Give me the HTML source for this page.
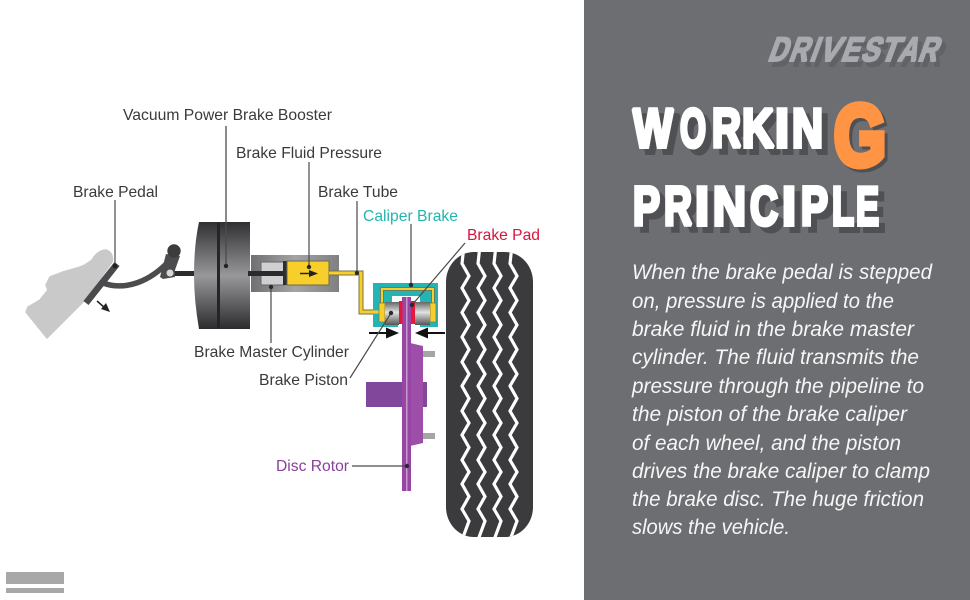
<!DOCTYPE html>
<html><head><meta charset="utf-8"><style>
html,body{margin:0;padding:0;background:#fff}
svg{display:block}
.l{font-family:"Liberation Sans",sans-serif;font-size:16px;fill:#3a3a3a}
.p{font-family:"Liberation Sans",sans-serif;font-style:italic;font-size:21px;fill:#f6f6f6}
.t{font-family:"Liberation Sans",sans-serif;font-weight:bold;stroke-linejoin:miter;stroke-miterlimit:1.500}
.s text{fill:#4f5054;stroke:#4f5054}
.w text{fill:#fff;stroke:#fff}
.h text{font-size:55px;stroke-width:4px}
.b text{font-size:34px;stroke-width:2px}
</style></head><body>
<svg xmlns="http://www.w3.org/2000/svg" width="970" height="600" viewBox="0 0 970 600">
<defs>
<linearGradient id="bo" x1="0" y1="0" x2="0" y2="1"><stop offset="0" stop-color="#303032"/><stop offset=".5" stop-color="#98989a"/><stop offset="1" stop-color="#2c2c2e"/></linearGradient>
<linearGradient id="cy" x1="0" y1="0" x2="0" y2="1"><stop offset="0" stop-color="#666"/><stop offset=".45" stop-color="#e2e2e2"/><stop offset="1" stop-color="#555"/></linearGradient>
<linearGradient id="mc" x1="0" y1="0" x2="1" y2="0"><stop offset="0" stop-color="#707072"/><stop offset=".5" stop-color="#a4a4a6"/><stop offset="1" stop-color="#808082"/></linearGradient>
<polyline id="z" fill="none" stroke="#fff" stroke-width="3.200" points="-2,250 -3.500,263.500 3.500,276 -3.500,288 3.500,300.500 -3.500,312.500 3.500,325 -3.500,337 3.500,349.500 -3.500,362 3.500,374 -3.500,386 3.500,398.500 -3.500,411 3.500,423 -3.500,435 3.500,447.500 -3.500,460 3.500,472 -3.500,484 3.500,496.500 -3.500,509 3.500,521 -3.500,540"/>
<clipPath id="tc"><rect x="446" y="252" width="87" height="285" rx="28" ry="30"/></clipPath>
</defs>
<rect width="970" height="600" fill="#fff"/>
<rect x="584" width="386" height="600" fill="#6d6e72"/>
<rect x="6" y="572" width="58" height="12" fill="#a8a8a8"/><rect x="6" y="588" width="58" height="5" fill="#a8a8a8"/>

<!-- shoe and pedal -->
<path d="M26,312 L47,338 L85,300 L112,262 Q114,253 106,250 Q98,250 92,260 Q85,266 77,268 L63,272 L50,277 L46,285 L48,290 L40,300 L28,307Z" fill="#c9c9c9" stroke="#c9c9c9" stroke-width="1.500" stroke-linejoin="round"/>
<path d="M103,283 C125,291 150,282 170,260" fill="none" stroke="#4c4c4e" stroke-width="5.500"/>
<polygon points="166,254 180,256 175,270 175,277 163,279 160,277" fill="#4c4c4e"/>
<circle cx="174" cy="251" r="6.700" fill="#3c3c3e"/>
<rect x="175" y="271" width="23" height="5" fill="#2c2c2e"/>
<circle cx="170" cy="273" r="3.500" fill="#d8d8d8"/>
<line x1="117" y1="264" x2="86" y2="303" stroke="#4a4a4c" stroke-width="6.500"/>
<circle cx="115" cy="266" r="2.500" fill="#222"/>
<path d="M97,301 L105,308" stroke="#222" stroke-width="1.500"/>
<polygon points="110,312 101,309 106,303" fill="#222"/>

<!-- booster -->
<path d="M199,222 H250 V329 H199 Q194,300 194,275 Q194,245 199,222Z" fill="url(#bo)"/>
<rect x="217" y="223" width="3" height="105" fill="#252527"/>
<line x1="226" y1="126" x2="226" y2="266" stroke="#4a4a4a" stroke-width="1.300"/>
<circle cx="226" cy="266" r="2.200" fill="#222"/>

<!-- master cylinder -->
<rect x="251" y="255" width="88" height="37" fill="url(#mc)"/>
<rect x="261" y="262" width="23" height="23" fill="#cfcfd1" stroke="#666" stroke-width="1"/>
<rect x="248" y="271" width="37" height="5" fill="#2a2a2c"/>
<rect x="283" y="261" width="5" height="24" fill="#2e2e30"/>
<rect x="287" y="261" width="42" height="24" fill="#f8cf2a" stroke="#6e6a50" stroke-width="1"/>
<path d="M329,273 H361 V312 H380" fill="none" stroke="#77704a" stroke-width="5"/>

<!-- caliper -->
<path d="M373,283 H438 V327 H420 V296 H392 V327 H373Z" fill="#25b4b4"/>
<rect x="392" y="320" width="6" height="7" fill="#25b4b4"/>
<path d="M329,273 H361 V312 H380" fill="none" stroke="#f8cf2a" stroke-width="3"/>
<path d="M382,303 V289 H433 V303" fill="none" stroke="#77704a" stroke-width="3.500"/>
<path d="M382,303 V289 H433 V303" fill="none" stroke="#f8cf2a" stroke-width="2"/>
<rect x="379" y="303" width="6" height="19" fill="#f8cf2a" stroke="#77704a" stroke-width=".7"/>
<rect x="430" y="303" width="6" height="19" fill="#f8cf2a" stroke="#77704a" stroke-width=".7"/>
<rect x="385" y="302" width="14" height="23" fill="url(#cy)"/>
<rect x="415" y="302" width="15" height="23" fill="url(#cy)"/>

<!-- disc -->
<rect x="366" y="382" width="38" height="25" fill="#80479a"/>
<rect x="420" y="382" width="7" height="25" fill="#80479a"/>
<rect x="423" y="351" width="12" height="6" fill="#a5a5a5"/>
<rect x="423" y="433" width="12" height="6" fill="#a5a5a5"/>
<polygon points="410,343 423,346 423,443 410,446" fill="#9d4ea8"/>
<rect x="402" y="297" width="9" height="194" fill="#9746a5"/>
<rect x="406" y="297" width="1.500" height="194" fill="#c79acb"/>
<rect x="399" y="301" width="3.500" height="23" fill="#e2183c"/>
<rect x="411" y="301" width="4" height="23" fill="#e2183c"/>

<!-- tyre -->
<rect x="446" y="252" width="87" height="285" rx="28" ry="30" fill="#3b3b3d"/>
<g clip-path="url(#tc)">
<use href="#z" transform="translate(465.500,0)"/>
<use href="#z" transform="translate(481.500,0)"/>
<use href="#z" transform="translate(497.500,0)"/>
<use href="#z" transform="translate(513.500,0)"/>
</g>

<!-- arrows -->
<path d="M300,273.500 H312" stroke="#222" stroke-width="1.500"/><polygon points="318,273.500 309,270 309,277" fill="#222"/>
<path d="M369,333 H388" stroke="#111" stroke-width="2"/><polygon points="399,333 386,327.500 386,338.500" fill="#111"/>
<path d="M445,333 H426" stroke="#111" stroke-width="2"/><polygon points="415,333 428,327.500 428,338.500" fill="#111"/>

<!-- leaders -->
<g stroke="#4a4a4a" stroke-width="1.200" fill="none">
<line x1="115" y1="200" x2="115" y2="263"/>
<line x1="309" y1="162" x2="309" y2="267"/>
<line x1="357" y1="201" x2="357" y2="273"/>
<line x1="411" y1="224" x2="411" y2="285"/>
<line x1="465" y1="243" x2="412" y2="305"/>
<line x1="271" y1="287" x2="271" y2="343"/>
<line x1="350" y1="378" x2="391" y2="313"/>
<line x1="352" y1="466" x2="407" y2="466"/>
</g>
<g fill="#2a2a2a"><circle cx="309" cy="267" r="2.200"/><circle cx="357" cy="273" r="2.200"/><circle cx="411" cy="285" r="2.200"/><circle cx="412" cy="305" r="2.200"/><circle cx="271" cy="287" r="2.200"/><circle cx="391" cy="313" r="2.200"/><circle cx="407" cy="466" r="2.200"/></g>

<!-- labels -->
<text class="l" x="123" y="120" textLength="209" lengthAdjust="spacingAndGlyphs">Vacuum Power Brake Booster</text>
<text class="l" x="236" y="158" textLength="146" lengthAdjust="spacingAndGlyphs">Brake Fluid Pressure</text>
<text class="l" x="73" y="197" textLength="85" lengthAdjust="spacingAndGlyphs">Brake Pedal</text>
<text class="l" x="318" y="197" textLength="80" lengthAdjust="spacingAndGlyphs">Brake Tube</text>
<text class="l" x="363" y="221" textLength="95" lengthAdjust="spacingAndGlyphs" style="fill:#22b5b0">Caliper Brake</text>
<text class="l" x="467" y="240" textLength="73" lengthAdjust="spacingAndGlyphs" style="fill:#d8143c">Brake Pad</text>
<text class="l" x="194" y="357" textLength="155" lengthAdjust="spacingAndGlyphs">Brake Master Cylinder</text>
<text class="l" x="259" y="385" textLength="89" lengthAdjust="spacingAndGlyphs">Brake Piston</text>
<text class="l" x="276" y="471" textLength="73" lengthAdjust="spacingAndGlyphs" style="fill:#8a3f98">Disc Rotor</text>

<!-- brand -->
<g class="t b" style="fill:#616266;stroke:#616266">
<text transform="translate(771,66) skewX(-20)" textLength="19" lengthAdjust="spacingAndGlyphs">D</text>
<text transform="translate(792,66) skewX(-20)" textLength="19" lengthAdjust="spacingAndGlyphs">R</text>
<text transform="translate(813,66) skewX(-20)" textLength="7" lengthAdjust="spacingAndGlyphs">I</text>
<text transform="translate(822,66) skewX(-20)" textLength="20" lengthAdjust="spacingAndGlyphs">V</text>
<text transform="translate(844,66) skewX(-20)" textLength="18" lengthAdjust="spacingAndGlyphs">E</text>
<text transform="translate(864,66) skewX(-20)" textLength="18" lengthAdjust="spacingAndGlyphs">S</text>
<text transform="translate(883,66) skewX(-20)" textLength="18" lengthAdjust="spacingAndGlyphs">T</text>
<text transform="translate(901,66) skewX(-20)" textLength="19" lengthAdjust="spacingAndGlyphs">A</text>
<text transform="translate(921,66) skewX(-20)" textLength="19" lengthAdjust="spacingAndGlyphs">R</text>
</g>
<g class="t b" style="fill:#a9aab0;stroke:#a9aab0">
<text transform="translate(767,61) skewX(-20)" textLength="19" lengthAdjust="spacingAndGlyphs">D</text>
<text transform="translate(788,61) skewX(-20)" textLength="19" lengthAdjust="spacingAndGlyphs">R</text>
<text transform="translate(809,61) skewX(-20)" textLength="7" lengthAdjust="spacingAndGlyphs">I</text>
<text transform="translate(818,61) skewX(-20)" textLength="20" lengthAdjust="spacingAndGlyphs">V</text>
<text transform="translate(840,61) skewX(-20)" textLength="18" lengthAdjust="spacingAndGlyphs">E</text>
<text transform="translate(860,61) skewX(-20)" textLength="18" lengthAdjust="spacingAndGlyphs">S</text>
<text transform="translate(879,61) skewX(-20)" textLength="18" lengthAdjust="spacingAndGlyphs">T</text>
<text transform="translate(897,61) skewX(-20)" textLength="19" lengthAdjust="spacingAndGlyphs">A</text>
<text transform="translate(917,61) skewX(-20)" textLength="19" lengthAdjust="spacingAndGlyphs">R</text>
</g>

<!-- title shadow -->
<g class="t h s" transform="translate(6,6)">
<text x="633" y="147" textLength="40" lengthAdjust="spacingAndGlyphs">W</text>
<text x="680" y="147" textLength="26" lengthAdjust="spacingAndGlyphs">O</text>
<text x="712" y="147" textLength="29" lengthAdjust="spacingAndGlyphs">R</text>
<text x="742" y="147" textLength="32" lengthAdjust="spacingAndGlyphs">K</text>
<text x="775" y="147" textLength="14" lengthAdjust="spacingAndGlyphs">I</text>
<text x="792" y="147" textLength="31" lengthAdjust="spacingAndGlyphs">N</text>
<text x="633" y="225" textLength="27" lengthAdjust="spacingAndGlyphs">P</text>
<text x="664" y="225" textLength="28" lengthAdjust="spacingAndGlyphs">R</text>
<text x="695" y="225" textLength="14" lengthAdjust="spacingAndGlyphs">I</text>
<text x="713" y="225" textLength="33" lengthAdjust="spacingAndGlyphs">N</text>
<text x="750" y="225" textLength="28" lengthAdjust="spacingAndGlyphs">C</text>
<text x="782" y="225" textLength="14" lengthAdjust="spacingAndGlyphs">I</text>
<text x="801" y="225" textLength="27" lengthAdjust="spacingAndGlyphs">P</text>
<text x="832" y="225" textLength="22" lengthAdjust="spacingAndGlyphs">L</text>
<text x="856" y="225" textLength="23" lengthAdjust="spacingAndGlyphs">E</text>
</g>
<text class="t" x="837" y="168" textLength="52" lengthAdjust="spacingAndGlyphs" font-size="86" stroke-width="7" fill="#4f5054" stroke="#4f5054">G</text>
<!-- title -->
<g class="t h w">
<text x="633" y="147" textLength="40" lengthAdjust="spacingAndGlyphs">W</text>
<text x="680" y="147" textLength="26" lengthAdjust="spacingAndGlyphs">O</text>
<text x="712" y="147" textLength="29" lengthAdjust="spacingAndGlyphs">R</text>
<text x="742" y="147" textLength="32" lengthAdjust="spacingAndGlyphs">K</text>
<text x="775" y="147" textLength="14" lengthAdjust="spacingAndGlyphs">I</text>
<text x="792" y="147" textLength="31" lengthAdjust="spacingAndGlyphs">N</text>
<text x="633" y="225" textLength="27" lengthAdjust="spacingAndGlyphs">P</text>
<text x="664" y="225" textLength="28" lengthAdjust="spacingAndGlyphs">R</text>
<text x="695" y="225" textLength="14" lengthAdjust="spacingAndGlyphs">I</text>
<text x="713" y="225" textLength="33" lengthAdjust="spacingAndGlyphs">N</text>
<text x="750" y="225" textLength="28" lengthAdjust="spacingAndGlyphs">C</text>
<text x="782" y="225" textLength="14" lengthAdjust="spacingAndGlyphs">I</text>
<text x="801" y="225" textLength="27" lengthAdjust="spacingAndGlyphs">P</text>
<text x="832" y="225" textLength="22" lengthAdjust="spacingAndGlyphs">L</text>
<text x="856" y="225" textLength="23" lengthAdjust="spacingAndGlyphs">E</text>
</g>
<text class="t" x="834" y="165" textLength="52" lengthAdjust="spacingAndGlyphs" font-size="86" stroke-width="7" fill="#ff9445" stroke="#ff9445">G</text>

<!-- paragraph -->
<text class="p" x="632" y="279" textLength="300" lengthAdjust="spacingAndGlyphs">When the brake pedal is stepped</text>
<text class="p" x="632" y="308" textLength="262" lengthAdjust="spacingAndGlyphs">on, pressure is applied to the</text>
<text class="p" x="632" y="336" textLength="282" lengthAdjust="spacingAndGlyphs">brake fluid in the brake master</text>
<text class="p" x="632" y="364" textLength="287" lengthAdjust="spacingAndGlyphs">cylinder. The fluid transmits the</text>
<text class="p" x="632" y="393" textLength="292" lengthAdjust="spacingAndGlyphs">pressure through the pipeline to</text>
<text class="p" x="632" y="421" textLength="275" lengthAdjust="spacingAndGlyphs">the piston of the brake caliper</text>
<text class="p" x="632" y="450" textLength="269" lengthAdjust="spacingAndGlyphs">of each wheel, and the piston</text>
<text class="p" x="632" y="478" textLength="298" lengthAdjust="spacingAndGlyphs">drives the brake caliper to clamp</text>
<text class="p" x="632" y="506" textLength="292" lengthAdjust="spacingAndGlyphs">the brake disc. The huge friction</text>
<text class="p" x="632" y="534" textLength="158" lengthAdjust="spacingAndGlyphs">slows the vehicle.</text>
</svg>
</body></html>
